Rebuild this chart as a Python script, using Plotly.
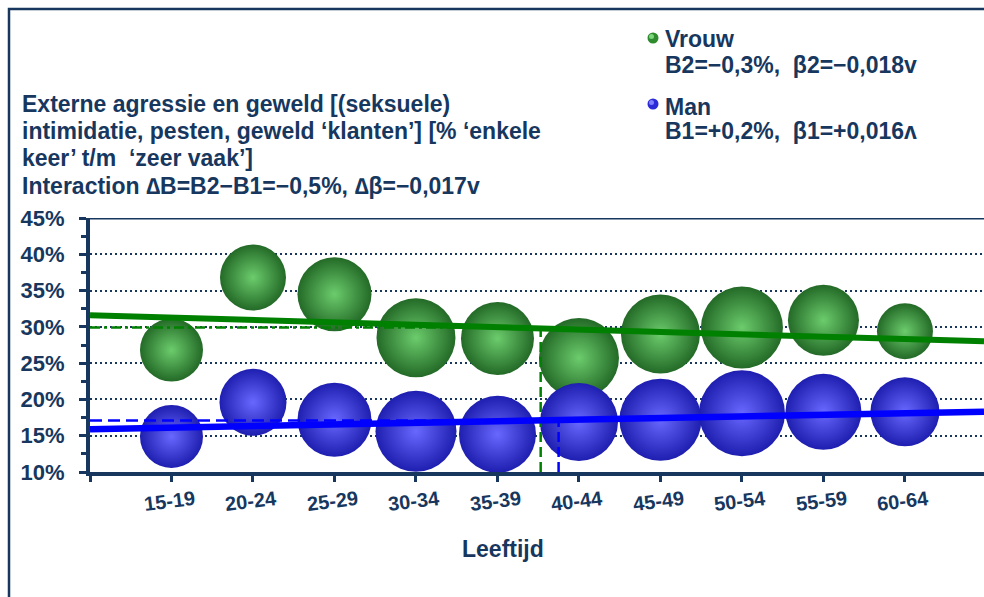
import plotly.graph_objects as go

# ---------------- data ----------------
categories = ["15-19", "20-24", "25-29", "30-34", "35-39",
              "40-44", "45-49", "50-54", "55-59", "60-64"]
vrouw_pct = [26.8, 36.8, 34.5, 28.5, 28.4, 25.7, 29.0, 29.9, 30.9, 29.4]
man_pct = [14.9, 19.6, 17.2, 15.6, 15.2, 16.9, 17.2, 18.1, 18.3, 18.3]
vrouw_size = [63, 66, 74, 79, 73, 80, 79, 82, 71, 56]
man_size = [63, 67, 74, 81, 77, 78, 82, 86, 76, 69]

trend_x = [0, 10.97]
vrouw_trend = [31.6, 28.0]
man_trend = [15.9, 18.3]
vrouw_mean_x, vrouw_mean_y = 5.53, 29.9
man_mean_x, man_mean_y = 5.75, 17.1

y_ticks = [10, 15, 20, 25, 30, 35, 40, 45]
y_ticktext = [f"{v}%" for v in y_ticks]

title_lines = [
    "Externe agressie en geweld [(seksuele)",
    "intimidatie, pesten, geweld \u2018klanten\u2019] [% \u2018enkele",
    "keer\u2019 t/m  \u2018zeer vaak\u2019]",
    "Interaction \u2206B=B2\u2212B1=\u22120,5%, \u2206\u03b2=\u22120,017v",
]
legend_vrouw = ["Vrouw", "B2=\u22120,3%,  \u03b22=\u22120,018v"]
legend_man = ["Man", "B1=+0,2%,  \u03b21=+0,016\u028c"]
x_title = "Leeftijd"

# ---------------- styling helpers ----------------
W, H = 984, 597
NAVY = "#17375E"
FONT = "Liberation Sans, Arial, sans-serif"


def px2x(px):
    return px / W


def px2y(py):
    return (H - py) / H


x_pos = list(range(1, len(categories) + 1))

fig = go.Figure()

# bubbles
fig.add_trace(go.Scatter(
    x=x_pos, y=vrouw_pct, mode="markers", name="Vrouw",
    marker=dict(size=vrouw_size, sizemode="diameter", color="#236A27",
                gradient=dict(type="radial", color="#6CCC6C"),
                line=dict(width=0), opacity=1),
    hoverinfo="skip"))
fig.add_trace(go.Scatter(
    x=x_pos, y=man_pct, mode="markers", name="Man",
    marker=dict(size=man_size, sizemode="diameter", color="#1E1EB0",
                gradient=dict(type="radial", color="#6868FF"),
                line=dict(width=0), opacity=1),
    hoverinfo="skip"))

# mean lines
fig.add_trace(go.Scatter(x=[0, vrouw_mean_x], y=[vrouw_mean_y, vrouw_mean_y], mode="lines",
                         line=dict(color="#008000", width=2.5, dash="10px,4px,3px,4px"),
                         hoverinfo="skip"))
fig.add_trace(go.Scatter(x=[vrouw_mean_x, vrouw_mean_x], y=[10, vrouw_mean_y], mode="lines",
                         line=dict(color="#008000", width=2.5, dash="10px,5px"),
                         hoverinfo="skip"))
fig.add_trace(go.Scatter(x=[0, man_mean_x], y=[man_mean_y, man_mean_y], mode="lines",
                         line=dict(color="#0000FF", width=2.5, dash="12px,6px"),
                         hoverinfo="skip"))
fig.add_trace(go.Scatter(x=[man_mean_x, man_mean_x], y=[10, man_mean_y], mode="lines",
                         line=dict(color="#0000FF", width=2.5, dash="10px,5px"),
                         hoverinfo="skip"))

# trend lines
fig.add_trace(go.Scatter(x=trend_x, y=vrouw_trend, mode="lines",
                         line=dict(color="#008000", width=6), hoverinfo="skip"))
fig.add_trace(go.Scatter(x=trend_x, y=man_trend, mode="lines",
                         line=dict(color="#0000FF", width=6.5), hoverinfo="skip"))

annotations = []
# title lines
for txt, cy in zip(title_lines, [104, 131, 158, 186]):
    annotations.append(dict(text=f"<b>{txt}</b>", xref="paper", yref="paper",
                            x=px2x(20), y=px2y(cy), xanchor="left", yanchor="middle",
                            showarrow=False, font=dict(size=23, color=NAVY, family=FONT)))
# legend text
for txt, cy in zip(legend_vrouw + legend_man, [39, 65, 107, 131]):
    annotations.append(dict(text=f"<b>{txt}</b>", xref="paper", yref="paper",
                            x=px2x(663), y=px2y(cy), xanchor="left", yanchor="middle",
                            showarrow=False, font=dict(size=23, color=NAVY, family=FONT)))
# x tick labels (slightly rotated)
for xp, lab in zip(x_pos, categories):
    annotations.append(dict(text=f"<b>{lab}</b>", xref="x", yref="paper",
                            x=xp - 0.03, y=px2y(501), xanchor="center", yanchor="middle",
                            textangle=-7, showarrow=False,
                            font=dict(size=20, color=NAVY, family=FONT)))
# x title
annotations.append(dict(text=f"<b>{x_title}</b>", xref="paper", yref="paper",
                        x=px2x(503), y=px2y(549), xanchor="center", yanchor="middle",
                        showarrow=False, font=dict(size=23, color=NAVY, family=FONT)))

shapes = [
    # outer frame
    dict(type="rect", xref="paper", yref="paper", x0=px2x(9), x1=1.02,
         y0=-0.02, y1=px2y(9), line=dict(color=NAVY, width=2.5), layer="below"),
    # top line of plot at 45%
    dict(type="line", xref="paper", yref="y", x0=px2x(88), x1=1.0, y0=45, y1=45,
         line=dict(color=NAVY, width=3)),
    # legend dots
    dict(type="circle", xref="paper", yref="paper",
         x0=px2x(647.5), x1=px2x(658.5), y0=px2y(43.5), y1=px2y(32.5),
         fillcolor="#2E8B2E", line=dict(width=0)),
    dict(type="circle", xref="paper", yref="paper",
         x0=px2x(649), x1=px2x(654), y0=px2y(39), y1=px2y(34),
         fillcolor="#7CD67C", line=dict(width=0)),
    dict(type="circle", xref="paper", yref="paper",
         x0=px2x(647.5), x1=px2x(658.5), y0=px2y(109.5), y1=px2y(98.5),
         fillcolor="#2B2BD8", line=dict(width=0)),
    dict(type="circle", xref="paper", yref="paper",
         x0=px2x(649), x1=px2x(654), y0=px2y(105), y1=px2y(100),
         fillcolor="#8080FF", line=dict(width=0)),
]

x_dom = [px2x(90), 1.0]
y_dom = [px2y(472), px2y(218)]

fig.update_layout(
    width=W, height=H,
    margin=dict(l=0, r=0, t=0, b=0),
    paper_bgcolor="white", plot_bgcolor="white",
    showlegend=False,
    font=dict(family=FONT, color=NAVY),
    annotations=annotations,
    shapes=shapes,
    xaxis=dict(domain=x_dom, range=[0, 10.97], tickmode="array",
               tickvals=list(range(0, len(categories) + 1)),
               showticklabels=False, ticks="outside", ticklen=6, tickwidth=3,
               tickcolor=NAVY, showline=True, linecolor=NAVY, linewidth=4,
               showgrid=False, zeroline=False, automargin=False),
    yaxis=dict(domain=y_dom, range=[10, 45], tickmode="array",
               tickvals=y_ticks, ticktext=[f"<b>{t}</b>" for t in y_ticktext],
               tickfont=dict(size=22, color=NAVY, family=FONT),
               ticks="outside", ticklen=7, tickwidth=3, tickcolor=NAVY,
               ticklabelstandoff=10,
               showline=True, linecolor=NAVY, linewidth=4,
               showgrid=True, gridcolor=NAVY, gridwidth=2, griddash="2px,3px",
               minor=dict(tick0=10, dtick=2.5, ticks="outside", ticklen=5,
                          tickwidth=3, tickcolor=NAVY, showgrid=False),
               zeroline=False, automargin=False),
    yaxis2=dict(domain=y_dom, range=[10, 45], overlaying="y", anchor="x", side="left",
                tickmode="array", tickvals=y_ticks, ticks="inside", ticklen=8,
                tickwidth=3, tickcolor=NAVY, showticklabels=False, showline=False,
                showgrid=False, zeroline=False, automargin=False),
)

fig.write_html(
    "out.html",
    config={"displayModeBar": False},
    post_script="document.body.style.margin='0';document.body.style.overflow='hidden';",
)
